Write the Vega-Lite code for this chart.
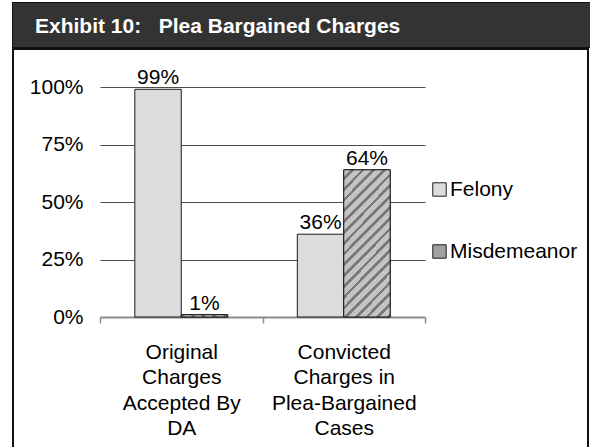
{
  "$schema": "https://vega.github.io/schema/vega-lite/v6.json",
  "padding": {"left": 12, "top": 2, "right": 0, "bottom": 0},
  "background": "#ffffff",
  "spacing": 0,
  "datasets": {
    "charges": [
      {"group": "Original Charges Accepted By DA", "type": "Felony", "pct": 0.99},
      {"group": "Original Charges Accepted By DA", "type": "Misdemeanor", "pct": 0.01},
      {"group": "Convicted Charges in Plea-Bargained Cases", "type": "Felony", "pct": 0.36},
      {"group": "Convicted Charges in Plea-Bargained Cases", "type": "Misdemeanor", "pct": 0.64}
    ],
    "heading": [{"label": "Exhibit 10: Plea Bargained Charges"}]
  },
  "vconcat": [
    {
      "width": 578,
      "height": 44,
      "view": {"fill": "#333333", "stroke": "#111111", "strokeWidth": 2},
      "data": {"name": "heading"},
      "mark": {"type": "rect", "fill": "#333333"},
      "encoding": {},
      "title": {
        "text": "Exhibit 10:\u00a0\u00a0 Plea Bargained Charges",
        "anchor": "start",
        "orient": "top",
        "frame": "group",
        "offset": -51,
        "dx": 22,
        "baseline": "alphabetic",
        "color": "#ffffff",
        "fontSize": 21,
        "fontWeight": "bold",
        "font": "Liberation Sans"
      }
    },
    {
      "width": 575,
      "height": 400,
      "view": {"stroke": "#111111", "strokeWidth": 2},
      "data": {"name": "charges"},
      "encoding": {
        "x": {
          "field": "group",
          "type": "nominal",
          "sort": null,
          "scale": {"paddingInner": 0, "paddingOuter": 0, "range": [87, 412]},
          "axis": {
            "title": null,
            "offset": -132,
            "labelAngle": 0,
            "tickBand": "extent",
            "ticks": true,
            "tickSize": 6,
            "tickColor": "#8c8c8c",
            "tickWidth": 1.5,
            "domainColor": "#8c8c8c",
            "domainWidth": 2,
            "labelFontSize": 21,
            "labelFont": "Liberation Sans",
            "labelColor": "#000000",
            "labelLineHeight": 25.5,
            "labelPadding": 18,
            "labelBaseline": "top",
            "labelLimit": 300,
            "labelExpr": "datum.value == 'Original Charges Accepted By DA' ? ['Original', 'Charges', 'Accepted By', 'DA'] : datum.value == 'Convicted Charges in Plea-Bargained Cases' ? ['Convicted', 'Charges in', 'Plea-Bargained', 'Cases'] : ''"
          }
        },
        "xOffset": {
          "field": "type",
          "type": "nominal",
          "sort": ["Felony", "Misdemeanor"],
          "scale": {"paddingInner": 0, "paddingOuter": 0.75}
        },
        "y": {
          "field": "pct",
          "type": "quantitative",
          "scale": {"domain": [0, 1], "range": [268, 38]},
          "axis": {
            "title": null,
            "offset": -87,
            "values": [0, 0.25, 0.5, 0.75, 1],
            "format": ".0%",
            "domain": false,
            "ticks": false,
            "tickSize": 0,
            "labelPadding": 17,
            "labelFontSize": 21,
            "labelFont": "Liberation Sans",
            "labelColor": "#000000",
            "gridColor": "#4d4d4d",
            "gridWidth": 1
          }
        }
      },
      "layer": [
        {
          "mark": {"type": "bar", "stroke": "#1a1a1a", "strokeWidth": 1},
          "encoding": {
            "fill": {
              "field": "type",
              "type": "nominal",
              "scale": {"domain": ["Felony", "Misdemeanor"], "range": ["#dcdcdc", "#a0a0a0"]},
              "legend": {
                "orient": "none",
                "legendX": 416,
                "legendY": 176,
                "title": null,
                "symbolType": "square",
                "symbolSize": 180,
                "symbolStrokeColor": "#1a1a1a",
                "symbolStrokeWidth": 1,
                "symbolOpacity": 1,
                "labelFontSize": 21,
                "labelFont": "Liberation Sans",
                "labelColor": "#000000",
                "labelOffset": 0,
                "rowPadding": 40,
                "encode": {
                  "symbols": {
                    "update": {
                      "stroke": {"value": "#1a1a1a"},
                      "strokeWidth": {"value": 1},
                      "fill": {"signal": "datum.value === 'Misdemeanor' ? {gradient: 'linear', x1: 0, y1: 0, x2: 1, y2: 1, stops: [{offset: 0, color: '#c4c4c4'}, {offset: 0.2, color: '#c4c4c4'}, {offset: 0.2, color: '#7a7a7a'}, {offset: 0.333, color: '#7a7a7a'}, {offset: 0.333, color: '#c4c4c4'}, {offset: 0.533, color: '#c4c4c4'}, {offset: 0.533, color: '#7a7a7a'}, {offset: 0.667, color: '#7a7a7a'}, {offset: 0.667, color: '#c4c4c4'}, {offset: 0.867, color: '#c4c4c4'}, {offset: 0.867, color: '#7a7a7a'}, {offset: 1, color: '#7a7a7a'}]} : '#dcdcdc'"}
                    }
                  }
                }
              }
            }
          }
        },
        {
          "transform": [{"filter": "datum.type === 'Misdemeanor'"}],
          "mark": {
            "type": "bar",
            "stroke": "#1a1a1a",
            "strokeWidth": 1,
            "fill": {
              "gradient": "linear",
              "x1": 0, "y1": 0, "x2": 0.383, "y2": 1.197,
              "stops": [
                {"offset": 0, "color": "#c4c4c4"}, {"offset": 0.036, "color": "#c4c4c4"}, {"offset": 0.036, "color": "#7a7a7a"}, {"offset": 0.0556, "color": "#7a7a7a"},
                {"offset": 0.0556, "color": "#c4c4c4"}, {"offset": 0.0916, "color": "#c4c4c4"}, {"offset": 0.0916, "color": "#7a7a7a"}, {"offset": 0.1111, "color": "#7a7a7a"},
                {"offset": 0.1111, "color": "#c4c4c4"}, {"offset": 0.1471, "color": "#c4c4c4"}, {"offset": 0.1471, "color": "#7a7a7a"}, {"offset": 0.1667, "color": "#7a7a7a"},
                {"offset": 0.1667, "color": "#c4c4c4"}, {"offset": 0.2027, "color": "#c4c4c4"}, {"offset": 0.2027, "color": "#7a7a7a"}, {"offset": 0.2222, "color": "#7a7a7a"},
                {"offset": 0.2222, "color": "#c4c4c4"}, {"offset": 0.2582, "color": "#c4c4c4"}, {"offset": 0.2582, "color": "#7a7a7a"}, {"offset": 0.2778, "color": "#7a7a7a"},
                {"offset": 0.2778, "color": "#c4c4c4"}, {"offset": 0.3138, "color": "#c4c4c4"}, {"offset": 0.3138, "color": "#7a7a7a"}, {"offset": 0.3333, "color": "#7a7a7a"},
                {"offset": 0.3333, "color": "#c4c4c4"}, {"offset": 0.3693, "color": "#c4c4c4"}, {"offset": 0.3693, "color": "#7a7a7a"}, {"offset": 0.3889, "color": "#7a7a7a"},
                {"offset": 0.3889, "color": "#c4c4c4"}, {"offset": 0.4249, "color": "#c4c4c4"}, {"offset": 0.4249, "color": "#7a7a7a"}, {"offset": 0.4444, "color": "#7a7a7a"},
                {"offset": 0.4444, "color": "#c4c4c4"}, {"offset": 0.4804, "color": "#c4c4c4"}, {"offset": 0.4804, "color": "#7a7a7a"}, {"offset": 0.5, "color": "#7a7a7a"},
                {"offset": 0.5, "color": "#c4c4c4"}, {"offset": 0.536, "color": "#c4c4c4"}, {"offset": 0.536, "color": "#7a7a7a"}, {"offset": 0.5556, "color": "#7a7a7a"},
                {"offset": 0.5556, "color": "#c4c4c4"}, {"offset": 0.5916, "color": "#c4c4c4"}, {"offset": 0.5916, "color": "#7a7a7a"}, {"offset": 0.6111, "color": "#7a7a7a"},
                {"offset": 0.6111, "color": "#c4c4c4"}, {"offset": 0.6471, "color": "#c4c4c4"}, {"offset": 0.6471, "color": "#7a7a7a"}, {"offset": 0.6667, "color": "#7a7a7a"},
                {"offset": 0.6667, "color": "#c4c4c4"}, {"offset": 0.7027, "color": "#c4c4c4"}, {"offset": 0.7027, "color": "#7a7a7a"}, {"offset": 0.7222, "color": "#7a7a7a"},
                {"offset": 0.7222, "color": "#c4c4c4"}, {"offset": 0.7582, "color": "#c4c4c4"}, {"offset": 0.7582, "color": "#7a7a7a"}, {"offset": 0.7778, "color": "#7a7a7a"},
                {"offset": 0.7778, "color": "#c4c4c4"}, {"offset": 0.8138, "color": "#c4c4c4"}, {"offset": 0.8138, "color": "#7a7a7a"}, {"offset": 0.8333, "color": "#7a7a7a"},
                {"offset": 0.8333, "color": "#c4c4c4"}, {"offset": 0.8693, "color": "#c4c4c4"}, {"offset": 0.8693, "color": "#7a7a7a"}, {"offset": 0.8889, "color": "#7a7a7a"},
                {"offset": 0.8889, "color": "#c4c4c4"}, {"offset": 0.9249, "color": "#c4c4c4"}, {"offset": 0.9249, "color": "#7a7a7a"}, {"offset": 0.9444, "color": "#7a7a7a"},
                {"offset": 0.9444, "color": "#c4c4c4"}, {"offset": 0.9804, "color": "#c4c4c4"}, {"offset": 0.9804, "color": "#7a7a7a"}, {"offset": 1, "color": "#7a7a7a"}
              ]
            }
          }
        },
        {
          "mark": {"type": "text", "baseline": "alphabetic", "dy": -5, "fontSize": 21, "font": "Liberation Sans", "color": "#000000"},
          "encoding": {
            "text": {"field": "pct", "type": "quantitative", "format": ".0%"}
          }
        }
      ]
    }
  ],
  "config": {
    "font": "Liberation Sans",
    "view": {"stroke": null}
  }
}
